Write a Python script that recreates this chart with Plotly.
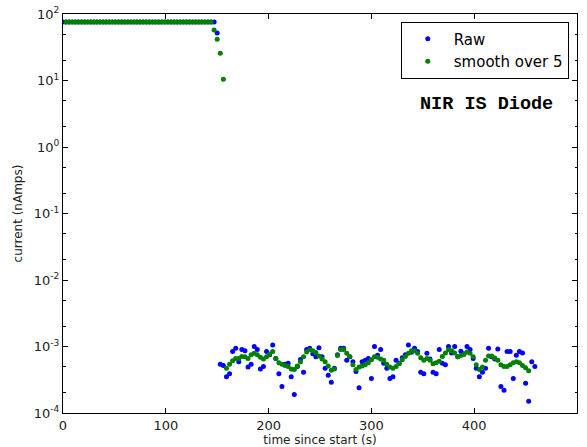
import numpy as np
import plotly.graph_objects as go

# ---------------- data ----------------
# sampling step (s) of the logger
step = 3.0

# raw current (nA): flat saturated part, then the noisy low part
raw_flat = [76.0, 76.0, 76.0, 76.0, 76.0, 76.0, 76.0, 76.0, 76.0, 76.0,
            76.0, 76.0, 76.0, 76.0, 76.0, 76.0, 76.0, 76.0, 76.0, 76.0,
            76.0, 76.0, 76.0, 76.0, 76.0, 76.0, 76.0, 76.0, 76.0, 76.0,
            76.0, 76.0, 76.0, 76.0, 76.0, 76.0, 76.0, 76.0, 76.0, 76.0,
            76.0, 76.0, 76.0, 76.0, 76.0, 76.0, 76.0, 76.0, 76.0, 76.0,
            52.0]
raw_low = [5.4e-4, 5.2e-4, 3.5e-4, 3.9e-4, 8.4e-4, 9.4e-4, 5.9e-4, 9.0e-4, 8.6e-4, 4.9e-4,
           5.4e-4, 1.0e-3, 9.0e-4, 4.6e-4, 5.0e-4, 8.4e-4, 7.5e-4, 1.05e-3, 6.6e-4, 3.9e-4,
           2.5e-4, 5.4e-4, 5.6e-4, 3.5e-4, 1.9e-4, 5.0e-4, 6.4e-4, 4.1e-4, 9.0e-4, 9.4e-4,
           7.8e-4, 7.0e-4, 9.6e-4, 7.0e-4, 4.7e-4, 3.7e-4, 2.9e-4, 4.7e-4, 7.5e-4, 9.4e-4,
           9.4e-4, 6.2e-4, 7.0e-4, 5.9e-4, 4.2e-4, 2.4e-4, 5.9e-4, 6.2e-4, 6.6e-4, 3.3e-4,
           1.0e-3, 7.4e-4, 9.0e-4, 5.6e-4, 4.7e-4, 3.3e-4, 3.5e-4, 6.2e-4, 5.6e-4, 6.8e-4,
           7.5e-4, 1.05e-3, 8.2e-4, 9.4e-4, 8.4e-4, 4.1e-4, 3.9e-4, 7.9e-4, 6.5e-4, 4.1e-4,
           3.9e-4, 9.0e-4, 5.6e-4, 5.3e-4, 1.0e-3, 8.0e-4, 1.0e-3, 7.0e-4, 8.5e-4, 7.8e-4,
           1.0e-3, 9.0e-4, 6.6e-4, 4.7e-4, 3.5e-4, 4.1e-4, 4.7e-4, 9.4e-4, 7.0e-4, 6.5e-4,
           9.2e-4, 2.5e-4, 2.2e-4, 8.4e-4, 8.4e-4, 3.3e-4, 7.4e-4, 8.4e-4, 8.0e-4, 2.8e-4,
           1.5e-4, 5.9e-4, 5.0e-4]

# smoothed current (nA), starts one sample after the raw series
smooth_flat = [76.0, 76.0, 76.0, 76.0, 76.0, 76.0, 76.0, 76.0, 76.0, 76.0,
               76.0, 76.0, 76.0, 76.0, 76.0, 76.0, 76.0, 76.0, 76.0, 76.0,
               76.0, 76.0, 76.0, 76.0, 76.0, 76.0, 76.0, 76.0, 76.0, 76.0,
               76.0, 76.0, 76.0, 76.0, 76.0, 76.0, 76.0, 76.0, 76.0, 76.0,
               76.0, 76.0, 76.0, 76.0, 76.0, 76.0, 76.0, 76.0,
               57.5, 41.6, 25.6, 10.4]
smooth_low = [4.7e-4, 5.4e-4, 6.1e-4, 6.6e-4, 6.6e-4, 7.1e-4, 7.0e-4, 6.6e-4, 7.5e-4, 7.9e-4,
              7.5e-4, 6.9e-4, 6.5e-4, 7.0e-4, 7.7e-4, 8.4e-4, 6.6e-4, 5.7e-4, 5.4e-4, 5.2e-4,
              5.0e-4, 4.6e-4, 4.5e-4, 5.1e-4, 5.9e-4, 7.0e-4, 8.3e-4, 8.9e-4, 8.6e-4, 8.1e-4,
              7.2e-4, 6.5e-4, 5.9e-4, 5.1e-4, 4.4e-4, 4.6e-4, 7.3e-4, 9.0e-4, 9.0e-4, 7.9e-4,
              7.0e-4, 5.3e-4, 4.5e-4, 4.9e-4, 5.1e-4, 5.3e-4, 5.7e-4, 6.3e-4, 7.0e-4, 6.9e-4,
              6.5e-4, 6.2e-4, 5.4e-4, 4.9e-4, 4.7e-4, 5.0e-4, 5.5e-4, 6.3e-4, 7.1e-4, 7.9e-4,
              8.6e-4, 8.6e-4, 7.9e-4, 6.8e-4, 6.2e-4, 6.6e-4, 6.2e-4, 5.5e-4, 5.7e-4, 6.0e-4,
              7.1e-4, 8.0e-4, 8.9e-4, 8.6e-4, 8.0e-4, 7.0e-4, 7.3e-4, 7.6e-4, 8.3e-4, 7.9e-4,
              7.0e-4, 5.3e-4, 4.5e-4, 4.9e-4, 6.2e-4, 7.2e-4, 7.2e-4, 6.7e-4, 6.2e-4, 5.3e-4,
              5.0e-4, 5.0e-4, 5.3e-4, 5.7e-4, 5.9e-4, 5.7e-4, 5.2e-4, 4.8e-4, 4.3e-4]

x_ticks = [0, 100, 200, 300, 400, 500]
y_tick_exps = [-4, -3, -2, -1, 0, 1, 2]
annotation_text = "NIR IS Diode"

raw = raw_flat + raw_low
smooth = smooth_flat + smooth_low
raw_time = step * np.arange(len(raw))
smooth_time = step * (1 + np.arange(len(smooth)))

# ---------------- figure ----------------
fig = go.Figure()
fig.add_trace(go.Scatter(x=raw_time, y=raw, mode="markers", name="Raw",
                         marker=dict(color="#0000ff", size=5, line=dict(width=0))))
fig.add_trace(go.Scatter(x=smooth_time, y=smooth, mode="markers", name="smooth over 5",
                         marker=dict(color="#008000", size=5, line=dict(width=0))))

fig.add_annotation(x=0.957, y=0.774, xref="paper", yref="paper", xanchor="right",
                   yanchor="middle", text="<b>%s</b>" % annotation_text, showarrow=False,
                   font=dict(family="Liberation Mono", size=18.5, color="black"))

axis_common = dict(showline=True, linecolor="black", linewidth=1, mirror="allticks",
                   ticks="inside", tickcolor="black", showgrid=False, zeroline=False,
                   automargin=False,
                   tickfont=dict(family="DejaVu Sans", size=13, color="#222"))

fig.update_xaxes(range=[0, 500], tickvals=x_ticks, ticklen=5,
                 title=dict(text="time since start (s)", standoff=2,
                            font=dict(family="DejaVu Sans", size=12, color="#222")),
                 **axis_common)
fig.update_yaxes(type="log", range=[-4, 2],
                 tickvals=[10.0 ** e for e in y_tick_exps],
                 ticktext=["10<sup>%d</sup>" % e for e in y_tick_exps],
                 ticklen=5,
                 minor=dict(ticks="inside", ticklen=2.5, tickcolor="black", showgrid=False),
                 title=dict(text="current (nAmps)", standoff=8,
                            font=dict(family="DejaVu Sans", size=12, color="#222")),
                 **axis_common)

fig.update_layout(
    width=587, height=447,
    margin=dict(l=63, r=10, t=14, b=34),
    plot_bgcolor="white", paper_bgcolor="white",
    showlegend=True,
    legend=dict(x=0.984, y=0.981, xanchor="right", yanchor="top",
                bgcolor="white", bordercolor="black", borderwidth=1,
                font=dict(family="DejaVu Sans", size=15, color="black"),
                itemwidth=42, tracegroupgap=2),
)

fig.write_html("out.html")
